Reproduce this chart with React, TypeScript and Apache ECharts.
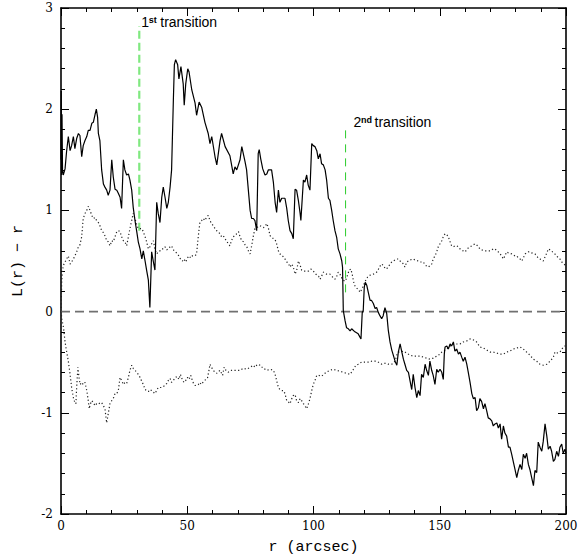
import React, { useEffect, useRef } from "react";
import * as echarts from "echarts";

// L(r) - r measured curve (r in arcsec, value)
const measured: number[][] = [
  [0, 1.5], [0.1, 2.18], [0.25, 1.35], [0.4, 1.95], [0.6, 1.4], [0.9, 1.35],
  [1.6, 1.41], [2.2, 1.58], [2.9, 1.73], [3.6, 1.59], [4.2, 1.64], [4.9, 1.73],
  [5.5, 1.61], [6.2, 1.71], [6.9, 1.76], [7.5, 1.74], [8.2, 1.53], [8.8, 1.64],
  [9.5, 1.69], [10.2, 1.73], [10.8, 1.79], [11.5, 1.79], [12.2, 1.86], [12.8, 1.87],
  [13.5, 1.95], [14.0, 2.0], [14.5, 1.92], [14.8, 1.76], [15.4, 1.69], [16.1, 1.4],
  [16.8, 1.26], [17.4, 1.23], [18.1, 1.2], [18.7, 1.15], [19.4, 1.2], [20.1, 1.5],
  [20.7, 1.33], [21.4, 1.21], [22.1, 1.2], [22.7, 1.17], [23.4, 1.13], [24.0, 1.02],
  [24.7, 1.5], [25.3, 1.4], [26.0, 1.35], [26.7, 1.36], [27.3, 1.3], [28.0, 1.2],
  [28.6, 1.03], [29.3, 0.9], [30.0, 0.79], [30.6, 0.69], [31.3, 0.62], [32.0, 0.52],
  [32.6, 0.6], [33.3, 0.5], [33.9, 0.41], [34.6, 0.31], [35.2, 0.04], [35.9, 0.59],
  [36.6, 0.49], [37.2, 0.41], [37.9, 1.08], [38.5, 0.97], [39.2, 0.88], [39.9, 1.13],
  [40.5, 1.23], [41.2, 1.13], [41.9, 1.02], [42.5, 1.08], [43.2, 1.23], [43.8, 1.4],
  [44.5, 2.09], [44.9, 2.44], [45.4, 2.49], [46.2, 2.44], [46.7, 2.3], [47.5, 2.42],
  [48.4, 2.25], [48.8, 2.04], [49.4, 2.25], [50.2, 2.4], [50.7, 2.37], [51.8, 2.19],
  [53.1, 2.06], [53.7, 1.94], [54.7, 2.07], [55.7, 2.02], [57.0, 1.87], [58.3, 1.76],
  [59.0, 1.66], [59.7, 1.73], [61.0, 1.53], [61.7, 1.45], [63.0, 1.69], [63.6, 1.76],
  [65.0, 1.63], [66.9, 1.54], [68.2, 1.36], [68.9, 1.43], [69.6, 1.4], [70.9, 1.5],
  [71.6, 1.63], [72.9, 1.48], [73.5, 1.4], [74.2, 1.2], [74.9, 1.0], [75.5, 0.92],
  [76.2, 0.92], [76.8, 0.9], [77.5, 0.8], [78.1, 1.56], [78.5, 1.6], [79.1, 1.51],
  [79.9, 1.41], [80.8, 1.35], [81.5, 1.36], [82.1, 1.4], [83.4, 1.4], [84.1, 1.28],
  [84.8, 1.08], [85.4, 0.98], [86.1, 1.2], [86.7, 1.08], [87.4, 1.12], [88.7, 1.12],
  [89.4, 1.02], [90.0, 0.9], [90.7, 0.8], [91.4, 0.77], [92.0, 0.72], [92.7, 1.21],
  [93.3, 1.2], [94.0, 1.1], [94.7, 0.97], [95.0, 0.9], [96.0, 1.3], [96.6, 1.28],
  [97.3, 1.35], [97.9, 1.25], [98.6, 1.2], [99.3, 1.66], [99.9, 1.64], [100.6, 1.63],
  [101.3, 1.59], [101.9, 1.51], [102.6, 1.56], [103.2, 1.46], [103.9, 1.45], [104.6, 1.4],
  [105.2, 1.3], [105.9, 1.12], [106.5, 1.1], [107.2, 1.0], [107.8, 0.9], [108.5, 0.8],
  [109.2, 0.73], [109.8, 0.62], [110.5, 0.57], [111.2, 0.5], [111.5, 0.44], [111.8, 0.01],
  [112.5, -0.09], [113.1, -0.16], [113.8, -0.17], [114.5, -0.19], [115.1, -0.17], [116.4, -0.2],
  [117.7, -0.22], [118.8, -0.27], [119.3, -0.01], [119.7, 0.01], [120.1, 0.24], [120.5, 0.29],
  [121.1, 0.26], [121.7, 0.19], [122.4, 0.11], [123.0, 0.11], [123.7, 0.08], [124.4, 0.03],
  [125.0, 0.04], [125.7, -0.01], [126.3, -0.04], [127.0, -0.07], [127.6, -0.04], [128.3, 0.04],
  [129.0, -0.02], [129.6, -0.18], [130.3, -0.3], [131.0, -0.38], [131.6, -0.43], [132.3, -0.49],
  [133.0, -0.53], [133.6, -0.4], [134.3, -0.32], [134.9, -0.39], [135.6, -0.47], [136.2, -0.52],
  [136.9, -0.58], [137.6, -0.6], [138.2, -0.68], [138.9, -0.77], [139.5, -0.62], [140.2, -0.75],
  [140.9, -0.85], [141.5, -0.78], [142.2, -0.83], [142.8, -0.62], [143.5, -0.65], [144.2, -0.52],
  [144.8, -0.58], [145.5, -0.63], [146.1, -0.49], [146.8, -0.58], [147.4, -0.63], [148.1, -0.72],
  [148.8, -0.57], [149.4, -0.6], [150.1, -0.57], [150.8, -0.6], [151.4, -0.67], [151.8, -0.42],
  [152.1, -0.35], [152.8, -0.34], [153.4, -0.37], [154.1, -0.32], [154.7, -0.34], [155.4, -0.3],
  [156.0, -0.39], [156.7, -0.37], [157.4, -0.42], [158.0, -0.4], [158.7, -0.45], [159.3, -0.49],
  [160.0, -0.45], [160.7, -0.52], [161.3, -0.6], [162.0, -0.7], [162.7, -0.81], [163.3, -0.86],
  [164.0, -0.85], [164.6, -0.98], [165.3, -0.95], [165.9, -0.86], [166.6, -0.89], [167.3, -0.96],
  [167.9, -0.91], [168.6, -0.98], [169.2, -1.05], [169.9, -1.06], [170.6, -1.08], [171.2, -1.13],
  [171.9, -1.11], [172.6, -1.1], [173.2, -1.15], [173.9, -1.11], [174.5, -1.26], [175.2, -1.13],
  [175.8, -1.2], [176.5, -1.23], [177.2, -1.34], [177.8, -1.34], [178.5, -1.41], [179.1, -1.48],
  [179.8, -1.56], [180.5, -1.64], [181.1, -1.57], [181.8, -1.51], [182.5, -1.56], [183.1, -1.41],
  [183.8, -1.45], [184.4, -1.4], [185.1, -1.51], [185.7, -1.56], [186.4, -1.64], [187.1, -1.72],
  [187.7, -1.57], [188.4, -1.59], [189.0, -1.29], [189.7, -1.34], [190.4, -1.38], [191.0, -1.28],
  [191.7, -1.11], [192.4, -1.23], [193.0, -1.36], [193.7, -1.33], [194.3, -1.38], [195.0, -1.48],
  [195.6, -1.46], [196.3, -1.38], [197.0, -1.43], [197.6, -1.34], [198.3, -1.31], [198.9, -1.4],
  [199.6, -1.36], [200, -1.4],
];

// upper envelope (dotted)
const upperEnvelope: number[][] = [
  [0, 0], [0.3, 0.31], [0.6, 0.41], [1.0, 0.46], [1.6, 0.49], [2.2, 0.52], [2.9, 0.55],
  [3.6, 0.47], [4.2, 0.49], [4.9, 0.52], [5.5, 0.55], [6.2, 0.59], [6.9, 0.64], [7.5, 0.66],
  [8.2, 0.74], [8.8, 0.92], [9.5, 0.97], [10.2, 1.0], [10.8, 1.04], [11.5, 1.0], [12.2, 0.95],
  [12.8, 0.92], [13.5, 0.93], [14.1, 0.9], [14.8, 0.88], [15.4, 0.85], [16.1, 0.8], [16.8, 0.78],
  [17.4, 0.75], [18.1, 0.7], [18.7, 0.69], [19.4, 0.65], [20.1, 0.7], [20.7, 0.69], [21.4, 0.74],
  [22.1, 0.79], [22.7, 0.8], [23.4, 0.79], [24.0, 0.74], [24.7, 0.7], [25.3, 0.69], [26.0, 0.65],
  [26.7, 0.74], [27.3, 0.82], [28.0, 0.9], [28.6, 0.97], [29.3, 0.92], [30.0, 0.86], [30.6, 0.82],
  [31.3, 0.82], [32.0, 0.82], [32.6, 0.79], [33.3, 0.74], [33.9, 0.69], [34.6, 0.62], [35.2, 0.64],
  [35.9, 0.67], [36.6, 0.7], [37.2, 0.62], [37.9, 0.57], [38.5, 0.59], [39.2, 0.6], [39.9, 0.62],
  [40.5, 0.62], [41.2, 0.64], [41.9, 0.61], [42.5, 0.62], [43.2, 0.64], [43.8, 0.65], [44.5, 0.61],
  [45.4, 0.59], [46.0, 0.57], [46.7, 0.55], [47.3, 0.52], [48.1, 0.5], [48.7, 0.52], [49.4, 0.49],
  [50.1, 0.53], [50.7, 0.55], [51.4, 0.53], [52.0, 0.55], [53.1, 0.55], [53.7, 0.57], [54.4, 0.75],
  [55.0, 0.88], [55.7, 0.9], [56.3, 0.92], [57.0, 0.9], [57.6, 0.93], [58.3, 0.95], [59.0, 0.9],
  [59.6, 0.87], [60.3, 0.85], [61.0, 0.82], [61.6, 0.8], [62.3, 0.79], [62.9, 0.77], [63.6, 0.74],
  [64.3, 0.75], [64.9, 0.72], [65.6, 0.7], [66.2, 0.67], [66.9, 0.65], [67.5, 0.7], [68.2, 0.74],
  [68.9, 0.75], [69.6, 0.77], [70.3, 0.79], [70.9, 0.74], [71.6, 0.7], [72.3, 0.69], [72.9, 0.66],
  [73.6, 0.64], [74.2, 0.6], [74.9, 0.57], [75.5, 0.65], [76.2, 0.75], [76.8, 0.82], [77.5, 0.83],
  [78.1, 0.84], [78.8, 0.85], [79.4, 0.84], [80.2, 0.83], [80.8, 0.84], [81.5, 0.87], [82.1, 0.83],
  [82.8, 0.75], [83.4, 0.74], [84.1, 0.72], [84.8, 0.71], [85.4, 0.67], [86.1, 0.6], [86.7, 0.57],
  [87.4, 0.56], [88.1, 0.54], [88.7, 0.52], [89.4, 0.49], [90.0, 0.48], [90.7, 0.44], [91.4, 0.47],
  [92.0, 0.44], [92.7, 0.37], [93.3, 0.4], [94.0, 0.5], [94.7, 0.46], [95.3, 0.41], [96.0, 0.4],
  [96.6, 0.4], [97.3, 0.4], [98.0, 0.4], [98.9, 0.42], [99.6, 0.41], [100.6, 0.38], [101.3, 0.36],
  [102.0, 0.35], [102.6, 0.32], [103.2, 0.35], [103.9, 0.39], [104.6, 0.38], [105.2, 0.37],
  [106.5, 0.37], [107.2, 0.35], [108.5, 0.32], [109.2, 0.35], [109.8, 0.39], [110.5, 0.37],
  [111.2, 0.33], [111.8, 0.31], [112.5, 0.3], [113.1, 0.33], [114.1, 0.41], [114.8, 0.42],
  [115.4, 0.36], [116.1, 0.27], [116.7, 0.24], [117.7, 0.22], [118.5, 0.19], [119.3, 0.23],
  [120.0, 0.27], [120.7, 0.31], [121.4, 0.34], [122.4, 0.36], [123.7, 0.37], [125.0, 0.39],
  [125.5, 0.41], [126.2, 0.44], [126.8, 0.47], [127.6, 0.46], [128.3, 0.43], [128.8, 0.42],
  [129.6, 0.44], [130.3, 0.47], [131.0, 0.49], [132.3, 0.51], [133.0, 0.52], [133.6, 0.52],
  [134.3, 0.5], [134.9, 0.49], [135.6, 0.47], [136.2, 0.44], [136.9, 0.49], [137.6, 0.5],
  [138.2, 0.51], [139.5, 0.52], [140.2, 0.51], [141.5, 0.5], [142.2, 0.49], [143.5, 0.49],
  [144.2, 0.46], [145.5, 0.44], [146.8, 0.47], [147.4, 0.52], [148.1, 0.55], [148.8, 0.59],
  [149.4, 0.64], [150.1, 0.67], [150.8, 0.7], [151.4, 0.74], [152.1, 0.77], [152.8, 0.76],
  [153.4, 0.74], [154.1, 0.69], [154.7, 0.65], [155.4, 0.64], [156.0, 0.65], [156.7, 0.65],
  [157.4, 0.64], [158.0, 0.62], [158.7, 0.61], [159.3, 0.6], [160.0, 0.59], [160.7, 0.61],
  [161.3, 0.63], [162.0, 0.64], [162.7, 0.65], [163.3, 0.66], [164.0, 0.67], [164.6, 0.66],
  [165.3, 0.64], [165.9, 0.62], [166.6, 0.61], [167.9, 0.6], [169.9, 0.6], [170.6, 0.61],
  [171.2, 0.62], [171.9, 0.62], [172.6, 0.6], [173.2, 0.59], [173.9, 0.57], [174.5, 0.55],
  [175.2, 0.52], [175.8, 0.55], [176.5, 0.59], [177.2, 0.58], [178.5, 0.57], [179.8, 0.55],
  [180.5, 0.55], [181.1, 0.53], [181.8, 0.52], [182.5, 0.5], [183.1, 0.53], [183.8, 0.57],
  [184.4, 0.58], [185.1, 0.59], [185.7, 0.59], [186.4, 0.58], [187.7, 0.57], [188.4, 0.55],
  [189.0, 0.53], [189.7, 0.52], [191.0, 0.5], [191.7, 0.54], [192.4, 0.58], [193.0, 0.62],
  [193.7, 0.61], [194.3, 0.6], [195.0, 0.58], [195.6, 0.57], [196.3, 0.55], [197.0, 0.53],
  [197.6, 0.52], [198.3, 0.49], [198.9, 0.48], [199.6, 0.46], [200, 0.45],
];

// lower envelope (dotted)
const lowerEnvelope: number[][] = [
  [0, 0], [0.4, -0.08], [1.0, -0.16], [1.6, -0.3], [2.2, -0.39], [2.9, -0.49], [3.6, -0.62],
  [4.2, -0.75], [4.9, -0.85], [5.5, -0.9], [5.9, -0.91], [6.2, -0.75], [6.7, -0.55], [7.0, -0.62],
  [7.3, -0.68], [7.6, -0.72], [8.2, -0.7], [8.8, -0.72], [9.5, -0.7], [10.2, -0.78], [10.8, -0.88],
  [11.2, -0.96], [11.5, -0.92], [12.2, -0.88], [12.8, -0.9], [13.5, -0.93], [14.1, -0.91],
  [14.8, -0.9], [15.4, -0.91], [16.1, -0.9], [16.8, -0.93], [17.4, -0.96], [18.1, -1.1],
  [18.7, -1.01], [19.4, -0.91], [20.1, -0.88], [20.7, -0.86], [21.4, -0.81], [22.1, -0.81],
  [22.7, -0.78], [23.4, -0.65], [24.0, -0.68], [24.7, -0.72], [25.3, -0.7], [26.0, -0.71],
  [26.7, -0.65], [27.3, -0.58], [28.0, -0.53], [28.6, -0.56], [29.3, -0.58], [30.0, -0.6],
  [30.6, -0.62], [31.3, -0.65], [32.0, -0.69], [32.6, -0.72], [33.3, -0.77], [33.9, -0.78],
  [34.6, -0.79], [35.2, -0.77], [35.9, -0.78], [37.2, -0.81], [37.9, -0.78], [38.5, -0.75],
  [39.9, -0.75], [41.2, -0.73], [41.9, -0.71], [42.5, -0.68], [43.2, -0.66], [43.8, -0.7],
  [44.5, -0.68], [45.4, -0.65], [46.0, -0.64], [46.7, -0.67], [47.3, -0.62], [48.0, -0.67],
  [48.7, -0.7], [49.4, -0.68], [50.1, -0.65], [50.7, -0.67], [51.4, -0.63], [52.0, -0.68],
  [52.5, -0.71], [53.1, -0.73], [53.7, -0.73], [54.4, -0.72], [54.9, -0.7], [55.6, -0.72],
  [56.2, -0.7], [56.7, -0.69], [57.3, -0.67], [58.0, -0.66], [58.6, -0.58], [59.0, -0.52],
  [59.6, -0.55], [60.3, -0.58], [61.0, -0.6], [61.6, -0.61], [62.3, -0.6], [62.9, -0.58],
  [63.6, -0.61], [64.0, -0.63], [64.6, -0.55], [65.3, -0.58], [66.2, -0.6], [67.5, -0.58],
  [69.6, -0.58], [70.9, -0.58], [72.2, -0.56], [73.5, -0.57], [74.9, -0.55], [76.2, -0.53],
  [76.8, -0.55], [77.5, -0.53], [78.1, -0.52], [78.8, -0.53], [79.4, -0.55], [80.1, -0.55],
  [80.8, -0.57], [81.5, -0.58], [82.8, -0.57], [84.1, -0.58], [84.8, -0.62], [85.4, -0.68],
  [86.1, -0.75], [86.7, -0.77], [87.4, -0.78], [88.1, -0.78], [88.7, -0.81], [89.4, -0.88],
  [90.0, -0.89], [90.7, -0.91], [91.4, -0.86], [92.0, -0.83], [92.7, -0.82], [93.3, -0.88],
  [94.0, -0.9], [94.7, -0.86], [95.3, -0.88], [96.0, -0.91], [96.6, -0.93], [97.3, -0.96],
  [98.0, -0.91], [98.6, -0.86], [99.3, -0.78], [99.9, -0.72], [100.6, -0.68], [101.3, -0.63],
  [102.0, -0.63], [103.2, -0.64], [104.0, -0.62], [105.0, -0.6], [106.5, -0.58], [107.8, -0.57],
  [109.0, -0.58], [110.5, -0.59], [111.8, -0.6], [113.1, -0.61], [114.5, -0.62], [115.8, -0.57],
  [116.8, -0.53], [117.7, -0.52], [119.0, -0.5], [120.4, -0.5], [122.0, -0.5], [123.0, -0.49],
  [124.4, -0.49], [125.7, -0.5], [127.0, -0.52], [128.3, -0.51], [129.6, -0.52], [131.0, -0.52],
  [132.3, -0.49], [133.0, -0.43], [133.6, -0.4], [134.3, -0.4], [135.6, -0.39], [136.9, -0.41],
  [138.2, -0.43], [139.5, -0.44], [142.2, -0.44], [143.5, -0.45], [144.8, -0.46], [146.1, -0.47],
  [147.4, -0.46], [148.8, -0.44], [150.1, -0.42], [150.8, -0.4], [151.4, -0.39], [152.8, -0.37],
  [154.1, -0.34], [155.4, -0.32], [158.0, -0.32], [159.3, -0.3], [160.7, -0.29], [162.0, -0.27],
  [163.3, -0.28], [164.6, -0.3], [165.9, -0.35], [167.3, -0.36], [168.6, -0.38], [170.0, -0.4],
  [171.2, -0.4], [172.6, -0.41], [173.9, -0.42], [175.2, -0.42], [176.5, -0.4], [177.8, -0.39],
  [179.1, -0.37], [180.5, -0.36], [181.8, -0.35], [183.1, -0.37], [184.4, -0.4], [185.7, -0.43],
  [187.1, -0.47], [188.4, -0.49], [189.7, -0.52], [191.0, -0.53], [192.4, -0.52], [193.7, -0.49],
  [195.0, -0.45], [195.6, -0.4], [196.3, -0.41], [197.6, -0.4], [198.9, -0.35], [199.6, -0.34],
  [200, -0.33],
];

const zeroLine: number[][] = [[0, 0], [200, 0]];

// transitions: r position, bottom, top, label number, suffix
const transitionR = [31, 112.7];
const transitionBottom = [0.8, 0.19];
const transitionTop = [2.82, 1.81];
const transitionNum = ["1", "2"];
const transitionSup = ["st", "nd"];
const transitionWord = "transition";

const xTickValues = [0, 50, 100, 150, 200];
const yTickValues = [-2, -1, 0, 1, 2, 3];

export default function App() {
  const ref = useRef<HTMLDivElement>(null);

  useEffect(() => {
    if (!ref.current) return;
    const chart = echarts.init(ref.current, undefined, { renderer: "svg" });

    const tickCommon = {
      axisLine: { show: true, onZero: false, lineStyle: { color: "#000", width: 1.6 } },
      axisTick: { show: true, inside: true, length: 8, lineStyle: { color: "#000", width: 1 } },
      minorTick: { show: true, splitNumber: 5, length: 4, lineStyle: { color: "#000", width: 1 } },
      splitLine: { show: false },
      minorSplitLine: { show: false },
    };

    const xBase = {
      type: "value",
      min: xTickValues[0],
      max: xTickValues[xTickValues.length - 1],
      interval: 50,
      ...tickCommon,
    };
    const yBase = {
      type: "value",
      min: yTickValues[0],
      max: yTickValues[yTickValues.length - 1],
      interval: 1,
      ...tickCommon,
    };

    const transitionSeries = transitionR.map((r, i) => ({
      type: "line",
      data: [[r, transitionBottom[i]], [r, transitionTop[i]]],
      symbol: "none",
      lineStyle:
        i === 0
          ? { color: "#80e880", width: 2.2, type: [8, 4] }
          : { color: "#2ccc2c", width: 1, type: [8, 6] },
      z: 1,
    }));

    chart.setOption({
      animation: false,
      backgroundColor: "#fff",
      grid: { left: 61, right: 13, top: 8, bottom: 46, containLabel: false, outerBoundsMode: "none" },
      xAxis: [
        {
          ...xBase,
          position: "bottom",
          name: "r (arcsec)",
          nameLocation: "middle",
          nameGap: 26,
          nameTextStyle: { fontFamily: "Liberation Mono", fontSize: 15, color: "#000" },
          axisLabel: {
            margin: 6,
            fontFamily: "DejaVu Serif",
            fontSize: 12,
            color: "#000",
          },
        },
        { ...xBase, position: "top", axisLabel: { show: false } },
      ],
      yAxis: [
        {
          ...yBase,
          position: "left",
          name: "L(r) − r",
          nameLocation: "middle",
          nameGap: 35,
          nameTextStyle: { fontFamily: "Liberation Mono", fontSize: 15, color: "#000" },
          axisLabel: {
            margin: 8,
            fontFamily: "DejaVu Serif",
            fontSize: 12,
            color: "#000",
          },
        },
        { ...yBase, position: "right", axisLabel: { show: false } },
      ],
      series: [
        {
          type: "line",
          data: zeroLine,
          symbol: "none",
          lineStyle: { color: "#707070", width: 1.8, type: [9, 5] },
          z: 1,
        },
        ...transitionSeries,
        {
          type: "line",
          data: upperEnvelope,
          symbol: "none",
          lineStyle: { color: "#222", width: 1.2, type: [1.2, 2.4] },
          z: 2,
        },
        {
          type: "line",
          data: lowerEnvelope,
          symbol: "none",
          lineStyle: { color: "#222", width: 1.2, type: [1.2, 2.4] },
          z: 2,
        },
        {
          type: "line",
          data: measured,
          symbol: "none",
          lineStyle: { color: "#000", width: 1.2 },
          z: 3,
        },
      ],
    });

    const graphics: any[] = [];
    transitionR.forEach((r, i) => {
      const p = chart.convertToPixel({ xAxisIndex: 0, yAxisIndex: 0 }, [r, transitionTop[i]]) as number[];
      const x0 = p[0] + (i === 0 ? 2 : 8);
      const base = p[1] + (i === 0 ? 3 : 1);
      graphics.push({
        type: "text",
        x: x0,
        y: base,
        style: {
          text: transitionNum[i],
          fontFamily: "Liberation Sans",
          fontSize: 14,
          fill: "#000",
          textVerticalAlign: "bottom",
        },
      });
      graphics.push({
        type: "text",
        x: x0 + 7.5,
        y: base - 5,
        style: {
          text: transitionSup[i],
          fontFamily: "Liberation Sans",
          fontSize: 9,
          fontWeight: "bold",
          fill: "#000",
          textVerticalAlign: "bottom",
        },
      });
      graphics.push({
        type: "text",
        x: x0 + (i === 0 ? 19 : 21),
        y: base,
        style: {
          text: transitionWord,
          fontFamily: "Liberation Sans",
          fontSize: 14,
          fill: "#000",
          textVerticalAlign: "bottom",
        },
      });
    });
    chart.setOption({ graphic: graphics });

    return () => chart.dispose();
  }, []);

  return (
    <div
      ref={ref}
      style={{ position: "absolute", left: 0, top: 0, width: 579, height: 560, background: "#fff" }}
    />
  );
}
